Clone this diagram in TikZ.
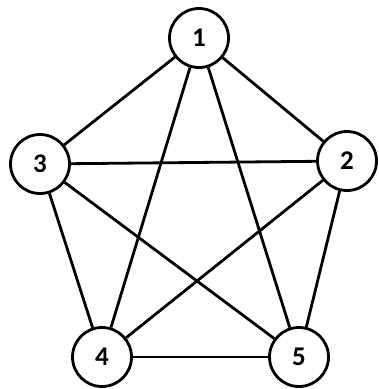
\documentclass[tikz,border=0pt]{standalone}
\usepackage{fontspec}
\setmainfont{Carlito}
\begin{document}
\begin{tikzpicture}[x=1pt,y=-1pt,line width=2.8pt,
  vertex/.style={circle,draw,fill=white,minimum size=59pt,inner sep=0pt,font=\bfseries\fontsize{27}{27}\selectfont}]
\useasboundingbox (0,0) rectangle (379,389);
\node[vertex] (n1) at (199,38) {1};
\node[vertex] (n2) at (347,161) {2};
\node[vertex] (n3) at (40,164) {3};
\node[vertex] (n4) at (102,357) {4};
\node[vertex] (n5) at (299,357) {5};
\foreach \a/\b in {n1/n2,n1/n3,n1/n4,n1/n5,n2/n3,n2/n4,n2/n5,n3/n4,n3/n5,n4/n5}
  \draw (\a) -- (\b);
\end{tikzpicture}
\end{document}
